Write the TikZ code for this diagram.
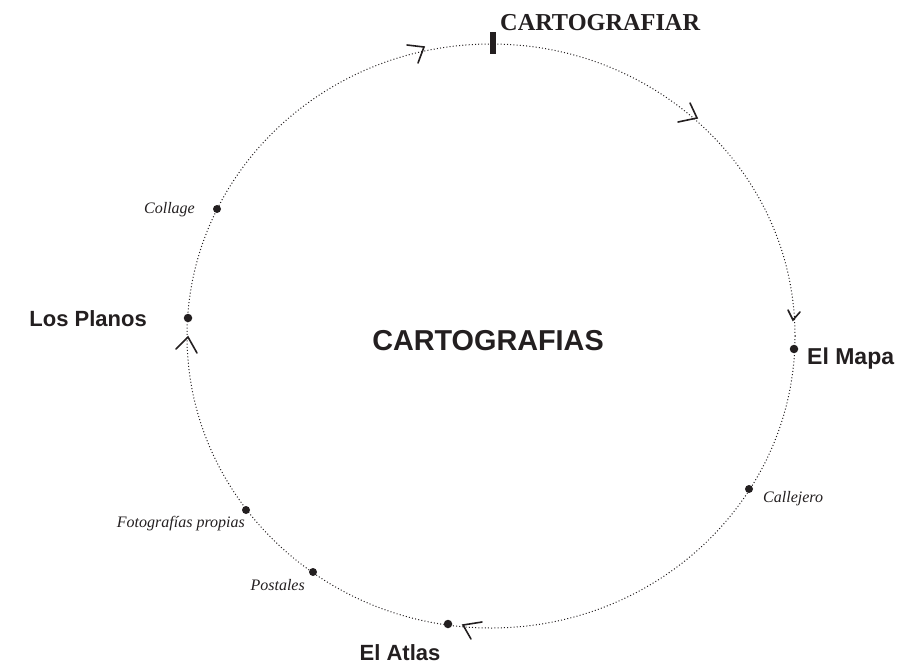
\documentclass[tikz,border=0pt]{standalone}
\usepackage{fontspec}
\setmainfont{Liberation Serif}
\newfontfamily\lblsans{Liberation Sans}
\definecolor{ink}{HTML}{231F20}
\begin{document}
\begin{tikzpicture}[x=1pt,y=-1pt,
  ring/.style={draw=ink,line width=1pt,dash pattern=on 1pt off 2.2pt},
  spot/.style={circle,fill=ink,inner sep=0pt,minimum size=8.5pt},
  bigsans/.style={font=\lblsans\fontsize{22}{24}\selectfont\bfseries,text=ink,inner sep=0pt},
  itallbl/.style={font=\fontsize{16}{18}\selectfont\itshape,text=ink,inner sep=0pt},
  chevron/.style={draw=ink,line width=1.6pt,line cap=round,line join=miter}]
\useasboundingbox (0,0) rectangle (912,669);
% ring
\draw[ring] (491,336) ellipse [x radius=304pt, y radius=292pt];
% top bar
\fill[ink] (490,32) rectangle (496,54);
\node[font=\fontsize{24.3}{26}\selectfont\bfseries,text=ink,inner sep=0pt,anchor=base west] (cart) at (500,31) {CARTOGRAFIAR};
% centre title
\node[font=\lblsans\fontsize{28.8}{30}\selectfont\bfseries,text=ink,inner sep=0pt] (title) at (488,341) {CARTOGRAFIAS};
% main stations
\node[spot] (mapa) at (794,349) {};
\node[bigsans,font=\lblsans\fontsize{23}{24}\selectfont\bfseries,anchor=base west] (mapalbl) at (807,364) {El Mapa};
\node[spot] (planos) at (188,318) {};
\node[bigsans,anchor=base east] (planoslbl) at (147,326) {Los Planos};
\node[spot] (atlas) at (448,624) {};
\node[bigsans,anchor=base] (atlaslbl) at (400,660) {El Atlas};
% minor stations
\node[spot,minimum size=8pt] (coll) at (217,209) {};
\node[itallbl,anchor=base east] (colllbl) at (195,213) {Collage};
\node[spot,minimum size=8pt] (calle) at (749,489) {};
\node[itallbl,anchor=base west] (callelbl) at (763,502) {Callejero};
\node[spot,minimum size=8pt] (foto) at (246,510) {};
\node[itallbl,anchor=base east] (fotolbl) at (245,527) {Fotografías propias};
\node[spot,minimum size=8pt] (post) at (313,572) {};
\node[itallbl,anchor=base east] (postlbl) at (305,590) {Postales};
% direction chevrons
\draw[chevron] (407,45) -- (424,47) -- (418,63);
\draw[chevron] (690,103) -- (697,118) -- (678,122);
\draw[chevron] (788,310) -- (793,320) -- (800,312);
\draw[chevron] (482,622) -- (463,625) -- (471,639);
\draw[chevron] (176,349) -- (188,337) -- (197,353);
\end{tikzpicture}
\end{document}
